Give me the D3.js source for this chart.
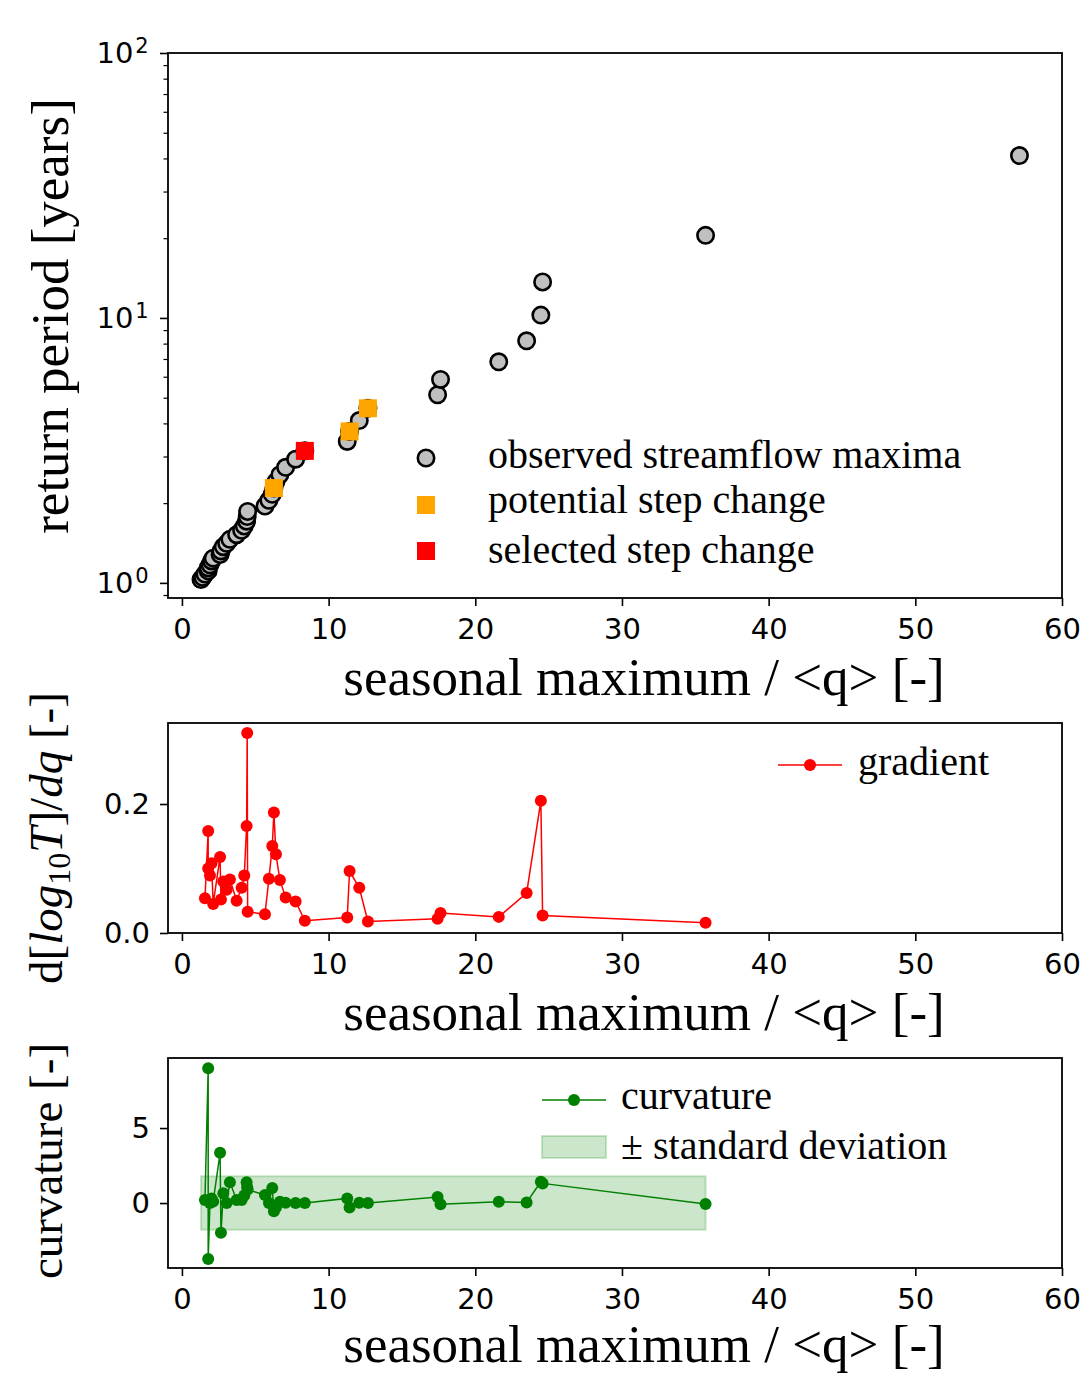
<!DOCTYPE html>
<html>
<head>
<meta charset="utf-8">
<script src="https://cdn.jsdelivr.net/npm/d3@7"></script>
<style>
  body { margin: 0; background: #fff; }
  svg { display: block; }
  .tick text { font-family: "DejaVu Sans", sans-serif; font-size: 29px; fill: #000; }
  .serif { font-family: "Liberation Serif", "Times New Roman", serif; fill: #000; }
</style>
</head>
<body>
<svg id="chart" width="1088" height="1376"></svg>
<script>
// observed seasonal maxima (normalised by mean flow), sorted ascending
const seasonalMax = [1.30, 1.42, 1.57, 1.79, 1.79, 1.91, 2.02, 2.13, 2.60, 2.66, 2.82, 3.05, 3.27, 3.73,
  4.07, 4.25, 4.41, 4.45, 4.48, 5.66, 5.93, 6.16, 6.27, 6.41, 6.68, 7.07, 7.75, 8.38, 11.27, 11.43,
  12.09, 12.68, 17.43, 17.63, 21.60, 23.50, 24.47, 24.59, 35.70, 57.10];
const returnPeriod = [1.03, 1.05, 1.08, 1.11, 1.14, 1.17, 1.21, 1.24, 1.28, 1.32, 1.37, 1.41, 1.46, 1.52,
  1.58, 1.64, 1.71, 1.78, 1.86, 1.95, 2.05, 2.16, 2.28, 2.41, 2.56, 2.73, 2.93, 3.15, 3.42, 3.73,
  4.10, 4.56, 5.13, 5.86, 6.83, 8.20, 10.25, 13.67, 20.50, 41.00];

const potentialQ = [6.27, 11.43, 12.68];
const potentialT = [2.28, 3.73, 4.56];
const selectedQ = [8.38];
const selectedT = [3.15];

// gradient + curvature are given at the same q positions
const derivQ = [1.57, 1.79, 1.79, 1.91, 2.02, 2.13, 2.60, 2.66, 2.82, 3.05, 3.27, 3.73, 4.07, 4.25,
  4.41, 4.45, 4.48, 5.66, 5.93, 6.16, 6.27, 6.41, 6.68, 7.07, 7.75, 8.38, 11.27, 11.43, 12.09, 12.68,
  17.43, 17.63, 21.60, 23.50, 24.47, 24.59, 35.70];
const gradient = [0.054, 0.158, 0.100, 0.089, 0.108, 0.045, 0.118, 0.052, 0.080, 0.067, 0.083, 0.050,
  0.070, 0.089, 0.166, 0.310, 0.033, 0.029, 0.084, 0.135, 0.187, 0.122, 0.082, 0.055, 0.049, 0.019,
  0.024, 0.096, 0.070, 0.018, 0.022, 0.031, 0.025, 0.062, 0.205, 0.027, 0.016];
const curvature = [0.2, 8.98, -3.73, 0.0, 0.3, 0.1, 3.35, -1.98, 0.65, 0.0, 1.38, 0.2, 0.2, 0.5,
  1.38, 1.05, 0.9, 0.53, 0.0, 1.0, -0.55, -0.3, 0.09, 0.02, 0.0, 0.0, 0.31, -0.29, 0.02, 0.0,
  0.4, -0.08, 0.09, 0.04, 1.42, 1.31, -0.07];

const bandQ = [1.30, 35.70];
const bandLow = [-1.78, -1.78];
const bandHigh = [1.78, 1.78];

const xTicks = [0, 10, 20, 30, 40, 50, 60];
const topTicks = [1, 10, 100];
const topMinor = [0.9, 2, 3, 4, 5, 6, 7, 8, 9, 20, 30, 40, 50, 60, 70, 80, 90];
const midTicks = [0.0, 0.2];
const botTicks = [0, 5];

const svg = d3.select("#chart");
const left = 168, right = 1062;
const panels = {
  top: { top: 53, bottom: 598 },
  mid: { top: 723, bottom: 933 },
  bot: { top: 1058, bottom: 1268 },
};

const x = d3.scaleLinear().domain([-0.95, 60]).range([left, right]);
const yTop = d3.scaleLog().domain([0.877, 100]).range([panels.top.bottom, panels.top.top]);
const yMid = d3.scaleLinear().domain([0, 0.3256]).range([panels.mid.bottom, panels.mid.top]);
const yBot = d3.scaleLinear().domain([-4.33, 9.67]).range([panels.bot.bottom, panels.bot.top]);

function styleAxis(g) {
  g.select(".domain").remove();
  g.selectAll(".tick line").attr("stroke", "#000").attr("stroke-width", 1.6);
}

function frame(p, yScale, yTicks, fmt) {
  const gx = svg.append("g").attr("transform", `translate(0,${p.bottom})`)
    .call(d3.axisBottom(x).tickValues(xTicks).tickSize(8).tickPadding(12).tickFormat(d3.format("d")));
  styleAxis(gx);
  const gy = svg.append("g").attr("transform", `translate(${left},0)`)
    .call(d3.axisLeft(yScale).tickValues(yTicks).tickSize(8).tickPadding(10).tickFormat(fmt));
  styleAxis(gy);
  return gy;
}

function border(p) {
  svg.append("rect")
    .attr("x", left).attr("y", p.top)
    .attr("width", right - left).attr("height", p.bottom - p.top)
    .attr("fill", "none").attr("stroke", "#000").attr("stroke-width", 1.8);
}

function xLabel(y) {
  svg.append("text").attr("class", "serif")
    .attr("x", 644).attr("y", y)
    .attr("text-anchor", "middle").attr("font-size", 53)
    .text("seasonal maximum / <q> [-]");
}

function yLabel(cx, cy, size) {
  return svg.append("text").attr("class", "serif")
    .attr("transform", `translate(${cx},${cy}) rotate(-90)`)
    .attr("text-anchor", "middle").attr("font-size", size);
}

// ---------- top panel: return period ----------
const pt = panels.top;
const gyTop = frame(pt, yTop, topTicks, () => "");
gyTop.selectAll(".tick text").attr("dx", "-0.05em").each(function (d) {
  const t = d3.select(this);
  t.append("tspan").text("10");
  t.append("tspan").attr("dy", "-0.45em").attr("dx", "0.08em").attr("font-size", 21).text(Math.round(Math.log10(d)));
});
const gMinor = svg.append("g").attr("transform", `translate(${left},0)`)
  .call(d3.axisLeft(yTop).tickValues(topMinor).tickSize(4.5).tickFormat(""));
styleAxis(gMinor);
gMinor.selectAll(".tick line").attr("stroke-width", 1.2);

svg.append("g").selectAll("circle")
  .data(d3.range(seasonalMax.length))
  .join("circle")
  .attr("cx", i => x(seasonalMax[i]))
  .attr("cy", i => yTop(returnPeriod[i]))
  .attr("r", 8.2)
  .attr("fill", "#c0c0c0").attr("stroke", "#000").attr("stroke-width", 2.6);

const sq = 18;
svg.append("g").selectAll("rect")
  .data(d3.range(potentialQ.length))
  .join("rect")
  .attr("x", i => x(potentialQ[i]) - sq / 2)
  .attr("y", i => yTop(potentialT[i]) - sq / 2)
  .attr("width", sq).attr("height", sq)
  .attr("fill", "#ffa500");
svg.append("g").selectAll("rect")
  .data(d3.range(selectedQ.length))
  .join("rect")
  .attr("x", i => x(selectedQ[i]) - sq / 2)
  .attr("y", i => yTop(selectedT[i]) - sq / 2)
  .attr("width", sq).attr("height", sq)
  .attr("fill", "#ff0000");
border(pt);

// legend
const legTop = svg.append("g");
legTop.append("circle").attr("cx", 426).attr("cy", 458).attr("r", 8.2)
  .attr("fill", "#c0c0c0").attr("stroke", "#000").attr("stroke-width", 2.6);
legTop.append("rect").attr("x", 426 - sq / 2).attr("y", 505 - sq / 2).attr("width", sq).attr("height", sq).attr("fill", "#ffa500");
legTop.append("rect").attr("x", 426 - sq / 2).attr("y", 551 - sq / 2).attr("width", sq).attr("height", sq).attr("fill", "#ff0000");
[["observed streamflow maxima", 455], ["potential step change", 500], ["selected step change", 550]].forEach(([t, y]) => {
  legTop.append("text").attr("class", "serif").attr("x", 488).attr("y", y)
    .attr("dy", "0.32em").attr("font-size", 40).text(t);
});

xLabel(695);
yLabel(68, 316, 53).text("return period [years]");

// ---------- middle panel: gradient ----------
const pm = panels.mid;
frame(pm, yMid, midTicks, d3.format(".1f"));
const lineMid = d3.line().x(i => x(derivQ[i])).y(i => yMid(gradient[i]));
svg.append("path").datum(d3.range(derivQ.length))
  .attr("d", lineMid).attr("fill", "none").attr("stroke", "#ff0000").attr("stroke-width", 1.5);
svg.append("g").selectAll("circle")
  .data(d3.range(derivQ.length))
  .join("circle")
  .attr("cx", i => x(derivQ[i])).attr("cy", i => yMid(gradient[i]))
  .attr("r", 6).attr("fill", "#ff0000");
border(pm);

const legMid = svg.append("g");
legMid.append("line").attr("x1", 778).attr("x2", 842).attr("y1", 765).attr("y2", 765)
  .attr("stroke", "#ff0000").attr("stroke-width", 1.5);
legMid.append("circle").attr("cx", 810).attr("cy", 765).attr("r", 6).attr("fill", "#ff0000");
legMid.append("text").attr("class", "serif").attr("x", 858).attr("y", 762)
  .attr("dy", "0.32em").attr("font-size", 40).text("gradient");

xLabel(1030);
const ml = yLabel(62, 838, 47);
ml.append("tspan").text("d[");
ml.append("tspan").attr("font-style", "italic").text("log");
ml.append("tspan").attr("font-size", 32).attr("dy", "0.25em").text("10");
ml.append("tspan").attr("font-style", "italic").attr("dy", "-0.17em").text("T");
ml.append("tspan").text("]/");
ml.append("tspan").attr("font-style", "italic").text("dq");
ml.append("tspan").text(" [-]");

// ---------- bottom panel: curvature ----------
const pb = panels.bot;
frame(pb, yBot, botTicks, d3.format("d"));
const area = d3.area().x(i => x(bandQ[i])).y0(i => yBot(bandLow[i])).y1(i => yBot(bandHigh[i]));
svg.append("path").datum(d3.range(bandQ.length))
  .attr("d", area).attr("fill", "#008000").attr("fill-opacity", 0.2)
  .attr("stroke", "#008000").attr("stroke-opacity", 0.2).attr("stroke-width", 2);
const lineBot = d3.line().x(i => x(derivQ[i])).y(i => yBot(curvature[i]));
svg.append("path").datum(d3.range(derivQ.length))
  .attr("d", lineBot).attr("fill", "none").attr("stroke", "#008000").attr("stroke-width", 1.5);
svg.append("g").selectAll("circle")
  .data(d3.range(derivQ.length))
  .join("circle")
  .attr("cx", i => x(derivQ[i])).attr("cy", i => yBot(curvature[i]))
  .attr("r", 6).attr("fill", "#008000");
border(pb);

const legBot = svg.append("g");
legBot.append("line").attr("x1", 542).attr("x2", 606).attr("y1", 1100).attr("y2", 1100)
  .attr("stroke", "#008000").attr("stroke-width", 1.5);
legBot.append("circle").attr("cx", 574).attr("cy", 1100).attr("r", 6).attr("fill", "#008000");
legBot.append("text").attr("class", "serif").attr("x", 621).attr("y", 1096)
  .attr("dy", "0.32em").attr("font-size", 40).text("curvature");
legBot.append("rect").attr("x", 542).attr("y", 1136).attr("width", 64).attr("height", 22)
  .attr("fill", "#008000").attr("fill-opacity", 0.2)
  .attr("stroke", "#008000").attr("stroke-opacity", 0.2).attr("stroke-width", 2);
legBot.append("text").attr("class", "serif").attr("x", 621).attr("y", 1146)
  .attr("dy", "0.32em").attr("font-size", 40).text("± standard deviation");

xLabel(1362);
yLabel(62, 1161, 47).text("curvature [-]");
</script>
</body>
</html>
